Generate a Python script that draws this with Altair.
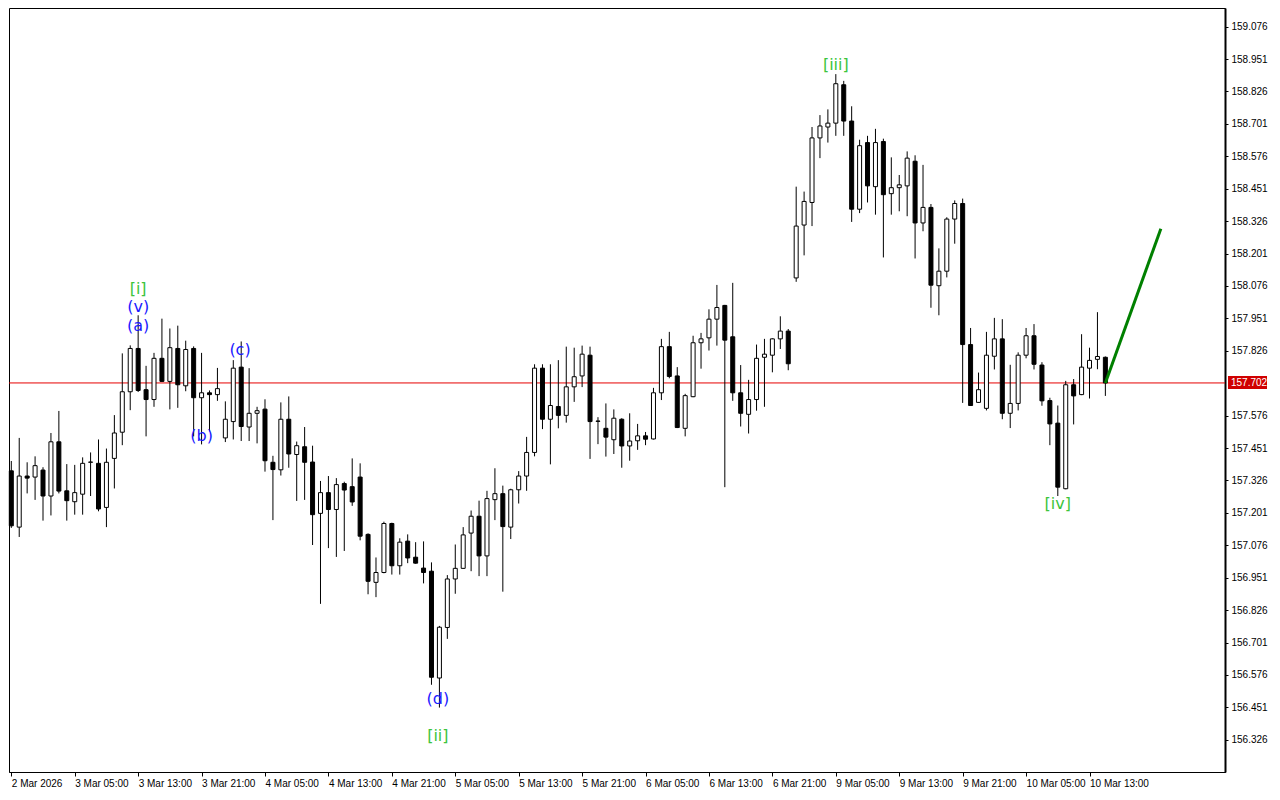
import altair as alt
import pandas as pd

opens = [
    157.363, 157.146, 157.343, 157.339, 157.366, 157.266, 157.475, 157.286, 157.244, 157.273,
    157.396, 157.392, 157.222, 157.411, 157.512, 157.668, 157.835, 157.676, 157.638, 157.797,
    157.708, 157.835, 157.691, 157.835, 157.645, 157.664, 157.657, 157.490, 157.553, 157.763,
    157.532, 157.585, 157.601, 157.396, 157.367, 157.562, 157.426, 157.456, 157.397, 157.199,
    157.279, 157.214, 157.314, 157.302, 157.339, 157.118, 156.933, 156.971, 157.160, 156.997,
    157.092, 157.030, 156.988, 156.976, 156.564, 156.759, 156.946, 156.987, 157.123, 157.188,
    157.035, 157.252, 157.275, 157.146, 157.290, 157.343, 157.434, 157.759, 157.562, 157.611,
    157.577, 157.687, 157.729, 157.809, 157.555, 157.527, 157.483, 157.562, 157.459, 157.479,
    157.498, 157.486, 157.664, 157.842, 157.729, 157.527, 157.649, 157.857, 157.876, 157.948,
    158.001, 157.880, 157.664, 157.581, 157.638, 157.801, 157.809, 157.872, 157.902, 158.107,
    158.311, 158.398, 158.647, 158.689, 158.704, 158.852, 158.712, 158.372, 158.629, 158.459,
    158.633, 158.432, 158.455, 158.462, 158.557, 158.319, 158.379, 158.077, 158.133, 158.334,
    158.394, 157.850, 157.627, 157.604, 157.805, 157.872, 157.585, 157.623, 157.809, 157.884,
    157.771, 157.634, 157.547, 157.294, 157.695, 157.657, 157.759, 157.793, 157.801,
]
highs = [
    157.401, 157.490, 157.396, 157.419, 157.377, 157.509, 157.594, 157.389, 157.386, 157.415,
    157.434, 157.484, 157.449, 157.578, 157.816, 157.847, 157.963, 157.768, 157.818, 157.950,
    157.912, 157.923, 157.865, 157.843, 157.818, 157.673, 157.760, 157.631, 157.790, 157.862,
    157.759, 157.610, 157.639, 157.421, 157.627, 157.650, 157.476, 157.532, 157.460, 157.324,
    157.343, 157.335, 157.321, 157.411, 157.392, 157.122, 157.029, 157.167, 157.163, 157.103,
    157.118, 157.088, 157.091, 157.010, 156.765, 156.961, 157.079, 157.146, 157.210, 157.248,
    157.286, 157.373, 157.306, 157.294, 157.362, 157.494, 157.774, 157.774, 157.774, 157.790,
    157.842, 157.838, 157.846, 157.842, 157.570, 157.623, 157.600, 157.566, 157.585, 157.544,
    157.513, 157.683, 157.872, 157.899, 157.763, 157.660, 157.884, 157.895, 157.986, 158.080,
    158.003, 158.088, 157.771, 157.714, 157.850, 157.872, 157.874, 157.959, 157.910, 158.459,
    158.440, 158.689, 158.735, 158.757, 158.893, 158.867, 158.769, 158.640, 158.655, 158.682,
    158.644, 158.572, 158.504, 158.595, 158.580, 158.543, 158.392, 158.221, 158.341, 158.406,
    158.413, 157.914, 157.742, 157.899, 157.953, 157.948, 157.772, 157.820, 157.914, 157.929,
    157.782, 157.645, 157.615, 157.710, 157.717, 157.890, 157.838, 157.975, 157.804,
]
lows = [
    157.143, 157.108, 157.276, 157.251, 157.171, 157.191, 157.276, 157.171, 157.194, 157.194,
    157.266, 157.207, 157.146, 157.295, 157.462, 157.597, 157.667, 157.496, 157.610, 157.706,
    157.600, 157.606, 157.670, 157.496, 157.465, 157.515, 157.633, 157.474, 157.484, 157.478,
    157.478, 157.469, 157.360, 157.173, 157.345, 157.375, 157.247, 157.251, 157.077, 156.850,
    157.065, 157.031, 157.054, 157.228, 157.095, 156.887, 156.876, 156.968, 156.963, 156.963,
    157.007, 157.005, 156.929, 156.538, 156.450, 156.715, 156.889, 156.985, 156.976, 156.957,
    156.957, 157.173, 156.897, 157.100, 157.237, 157.286, 157.419, 157.524, 157.388, 157.527,
    157.549, 157.629, 157.686, 157.409, 157.466, 157.418, 157.428, 157.375, 157.402, 157.444,
    157.462, 157.484, 157.636, 157.720, 157.528, 157.496, 157.647, 157.757, 157.827, 157.846,
    157.300, 157.633, 157.534, 157.507, 157.595, 157.610, 157.743, 157.833, 157.751, 158.092,
    158.194, 158.307, 158.569, 158.629, 158.655, 158.655, 158.323, 158.357, 158.398, 158.351,
    158.186, 158.351, 158.364, 158.345, 158.182, 158.287, 157.992, 157.963, 158.109, 158.239,
    157.625, 157.614, 157.625, 157.596, 157.754, 157.562, 157.528, 157.596, 157.797, 157.754,
    157.614, 157.462, 157.266, 157.292, 157.542, 157.655, 157.642, 157.755, 157.652,
]
closes = [
    157.151, 157.343, 157.335, 157.383, 157.266, 157.475, 157.285, 157.248, 157.279, 157.392,
    157.397, 157.216, 157.396, 157.509, 157.668, 157.835, 157.673, 157.638, 157.797, 157.708,
    157.838, 157.695, 157.831, 157.645, 157.664, 157.657, 157.680, 157.562, 157.759, 157.534,
    157.585, 157.595, 157.402, 157.368, 157.562, 157.428, 157.460, 157.396, 157.194, 157.279,
    157.214, 157.310, 157.289, 157.243, 157.111, 156.937, 156.971, 157.160, 156.997, 157.088,
    157.027, 157.007, 156.971, 156.567, 156.760, 156.946, 156.987, 157.116, 157.188, 157.035,
    157.256, 157.275, 157.148, 157.290, 157.343, 157.434, 157.759, 157.562, 157.615, 157.577,
    157.687, 157.726, 157.813, 157.553, 157.554, 157.493, 157.566, 157.459, 157.478, 157.498,
    157.485, 157.664, 157.842, 157.727, 157.530, 157.653, 157.857, 157.872, 157.948, 157.993,
    157.867, 157.664, 157.585, 157.638, 157.797, 157.813, 157.872, 157.902, 157.776, 158.307,
    158.402, 158.647, 158.693, 158.704, 158.856, 158.712, 158.372, 158.617, 158.462, 158.629,
    158.428, 158.455, 158.466, 158.569, 158.319, 158.379, 158.079, 158.133, 158.334, 158.394,
    157.850, 157.615, 157.676, 157.809, 157.872, 157.585, 157.623, 157.809, 157.884, 157.774,
    157.633, 157.544, 157.300, 157.695, 157.652, 157.763, 157.789, 157.804, 157.702,
]

time_labels = [
    "2 Mar 2026", "3 Mar 05:00", "3 Mar 13:00", "3 Mar 21:00", "4 Mar 05:00", "4 Mar 13:00",
    "4 Mar 21:00", "5 Mar 05:00", "5 Mar 13:00", "5 Mar 21:00", "6 Mar 05:00", "6 Mar 13:00",
    "6 Mar 21:00", "9 Mar 05:00", "9 Mar 13:00", "9 Mar 21:00", "10 Mar 05:00", "10 Mar 13:00",
]
time_label_bars = list(range(0, 8 * len(time_labels), 8))

price_ticks = [
    159.076, 158.951, 158.826, 158.701, 158.576, 158.451, 158.326, 158.201, 158.076,
    157.951, 157.826, 157.576, 157.451, 157.326, 157.201, 157.076, 156.951, 156.826,
    156.701, 156.576, 156.451, 156.326,
]
current_price = 157.702

ann_text = ["[i]", "(v)", "(a)", "(b)", "(c)", "(d)", "[ii]", "[iii]", "[iv]"]
ann_bar = [16, 16, 16, 24, 28.85, 53.8, 53.8, 104, 132]
ann_price = [158.066, 157.994, 157.923, 157.499, 157.828, 156.482, 156.342, 158.929, 157.235]
ann_color = ["#3cc43c", "#1a1aff", "#1a1aff", "#1a1aff", "#1a1aff", "#1a1aff",
             "#3cc43c", "#3cc43c", "#3cc43c"]

forecast_bar = [138, 145]
forecast_price = [157.702, 158.297]

W = 1216
H = 764

df = pd.DataFrame({
    "i": list(range(len(opens))),
    "open": opens, "high": highs, "low": lows, "close": closes,
})
ann_df = pd.DataFrame({"i": ann_bar, "p": ann_price, "t": ann_text, "c": ann_color})
fc_df = pd.DataFrame({"i": forecast_bar, "p": forecast_price})
cur_df = pd.DataFrame({"p": [current_price], "t": [f"{current_price:.3f}"]})

xscale = alt.Scale(domain=[-0.29, 153.09], nice=False, zero=False, padding=0)
yscale = alt.Scale(domain=[156.2016, 159.148], nice=False, zero=False, padding=0)

label_js = "[" + ",".join(f"'{s}'" for s in time_labels) + "]"

xaxis = alt.Axis(
    values=time_label_bars, labelExpr=f"{label_js}[round(datum.value/8)]",
    title=None, grid=False, labelAlign="left", labelBaseline="top", labelPadding=2,
    tickSize=4, tickColor="black", domainColor="black", labelColor="black",
    labelFont="Liberation Sans", labelFontSize=10, labelFlush=False, labelOverlap=False,
)
yaxis = alt.Axis(
    orient="right", values=price_ticks, format=".3f", title=None, grid=False,
    labelAlign="left", labelPadding=3, tickSize=3, tickColor="black",
    domainColor="black", domainWidth=2, labelColor="black",
    labelFont="Liberation Sans", labelFontSize=10, labelFlush=False, labelOverlap=False,
)

X = lambda f: alt.X(f, scale=xscale, axis=xaxis)
Y = lambda f: alt.Y(f, scale=yscale, axis=yaxis)

base = alt.Chart(df)

redline = alt.Chart(cur_df).mark_rule(color="#e60000", strokeWidth=1).encode(
    y=Y("p:Q")
)

wicks = base.mark_rule(color="black", strokeWidth=1).encode(
    x=X("i:Q"), y=Y("low:Q"), y2="high:Q",
)

bodies = base.mark_bar(size=4, stroke="black", strokeWidth=1).encode(
    x=X("i:Q"), y=Y("open:Q"), y2="close:Q",
    fill=alt.condition("datum.close >= datum.open", alt.value("white"), alt.value("black")),
)

forecast = alt.Chart(fc_df).mark_line(color="#008000", strokeWidth=3).encode(
    x=X("i:Q"), y=Y("p:Q"),
)

labels = alt.Chart(ann_df).mark_text(
    font="DejaVu Sans", fontSize=16, align="center", baseline="middle"
).encode(
    x=X("i:Q"), y=Y("p:Q"),
    text="t:N",
    color=alt.Color("c:N", scale=None),
)

price_box = alt.Chart(cur_df).mark_rect(color="#d00000", yOffset=-7, y2Offset=6).encode(
    x=alt.value(W + 3), x2=alt.value(W + 42),
    y=Y("p:Q"), y2="p:Q",
)
price_text = alt.Chart(cur_df).mark_text(
    color="white", font="Liberation Sans", fontSize=10, align="left", baseline="middle"
).encode(
    x=alt.value(W + 6),
    y=Y("p:Q"),
    text="t:N",
)

chart = alt.layer(
    redline, wicks, bodies, forecast, labels, price_box, price_text
).properties(
    width=W, height=H, background="white", padding=0
).configure_view(
    stroke="black", strokeWidth=1
)

chart.save("out.html", embed_options={"renderer": "svg", "actions": False})
